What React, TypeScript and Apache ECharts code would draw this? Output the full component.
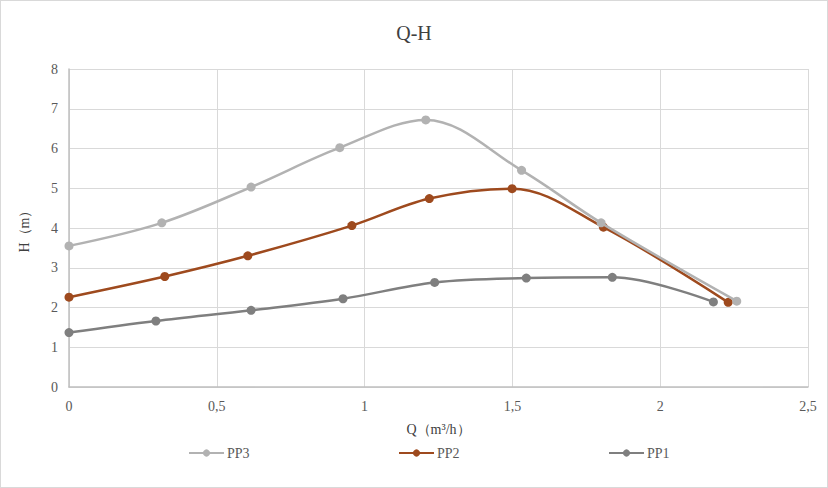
import React, { useEffect, useRef } from "react";
import * as echarts from "echarts";

const seriesNames = ["PP3", "PP2", "PP1"];
const pp3Q = [0, 0.314, 0.616, 0.916, 1.207, 1.531, 1.8, 2.259];
const pp3H = [3.55, 4.13, 5.03, 6.02, 6.72, 5.45, 4.13, 2.16];
const pp2Q = [0, 0.324, 0.605, 0.957, 1.219, 1.499, 1.808, 2.23];
const pp2H = [2.26, 2.78, 3.3, 4.06, 4.74, 4.99, 4.02, 2.13];
const pp1Q = [0, 0.294, 0.616, 0.927, 1.237, 1.547, 1.838, 2.18];
const pp1H = [1.37, 1.66, 1.93, 2.22, 2.63, 2.74, 2.76, 2.14];
const colors = ["#b2b2b2", "#9e4a1e", "#7f7f7f"];

const FONT = "Liberation Serif, DejaVu Serif, serif";

export default function App() {
  const ref = useRef<HTMLDivElement>(null);
  useEffect(() => {
    document.body.style.margin = "0";
    const chart = echarts.init(ref.current!, null, { renderer: "svg" });
    const data = [
      pp3Q.map((q, i) => [q, pp3H[i]]),
      pp2Q.map((q, i) => [q, pp2H[i]]),
      pp1Q.map((q, i) => [q, pp1H[i]]),
    ];
    const legendLefts = [187, 397, 607];
    chart.setOption({
      animation: false,
      backgroundColor: "#ffffff",
      textStyle: { fontFamily: FONT },
      title: {
        text: "Q-H",
        left: "center",
        top: 17,
        textStyle: { fontFamily: FONT, fontSize: 20, fontWeight: "normal", color: "#404040" },
      },
      legend: seriesNames.map((n, i) => ({
        data: [n],
        left: legendLefts[i],
        top: 445,
        padding: 0,
        itemWidth: 35,
        itemHeight: 9,
        itemGap: 4,
        textStyle: { fontFamily: FONT, fontSize: 14, color: "#595959", padding: [0, 0, 0, -2] },
      })),
      grid: { left: 68, right: 19, top: 68, bottom: 100 },
      xAxis: {
        type: "value",
        min: 0,
        max: 2.5,
        interval: 0.5,
        name: "Q（m³/h）",
        nameLocation: "middle",
        nameGap: 35,
        nameTextStyle: { fontFamily: FONT, fontSize: 14, color: "#404040" },
        axisLine: { show: true, lineStyle: { color: "#bfbfbf", width: 1.5 } },
        axisTick: { show: false },
        axisLabel: {
          margin: 12,
          fontFamily: FONT,
          fontSize: 14,
          color: "#595959",
          formatter: (v: number) => String(v).replace(".", ","),
        },
        splitLine: { show: true, lineStyle: { color: "#d9d9d9", width: 1 } },
      },
      yAxis: {
        type: "value",
        min: 0,
        max: 8,
        interval: 1,
        name: "H（m）",
        nameLocation: "middle",
        nameGap: 38,
        nameTextStyle: { fontFamily: FONT, fontSize: 14, color: "#404040" },
        axisLine: { show: true, lineStyle: { color: "#bfbfbf", width: 1.5 } },
        axisTick: { show: false },
        axisLabel: { margin: 11, fontFamily: FONT, fontSize: 14, color: "#595959" },
        splitLine: { show: true, lineStyle: { color: "#d9d9d9", width: 1 } },
      },
      series: seriesNames.map((n, i) => ({
        name: n,
        type: "line",
        data: data[i],
        smooth: 0.35,
        symbol: "circle",
        symbolSize: 9,
        lineStyle: { color: colors[i], width: 2.5 },
        itemStyle: { color: colors[i] },
        z: 3 - i,
      })),
    });
    return () => chart.dispose();
  }, []);
  return (
    <div
      ref={ref}
      style={{
        position: "fixed",
        left: 0,
        top: 0,
        width: 828,
        height: 488,
        border: "1px solid #d9d9d9",
        boxSizing: "border-box",
      }}
    />
  );
}
